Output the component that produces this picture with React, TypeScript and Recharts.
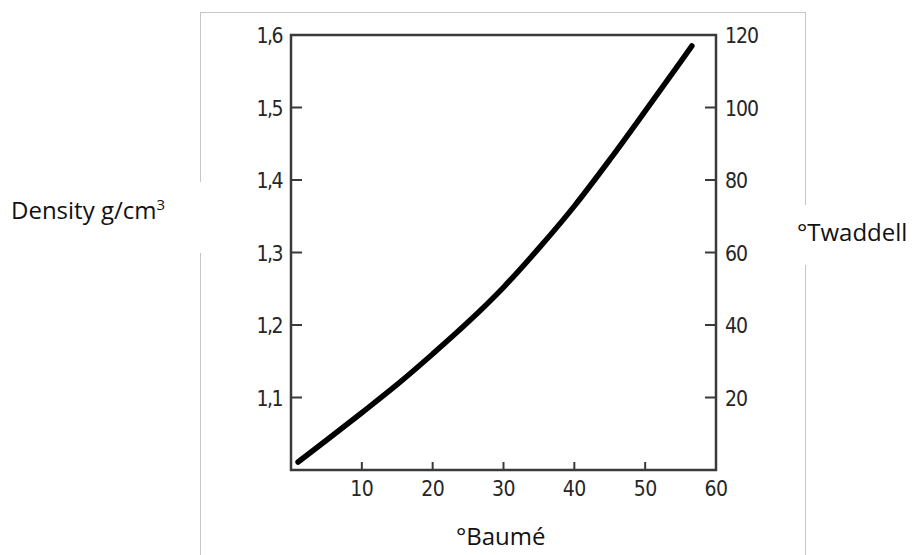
import { LineChart, Line, XAxis, YAxis, ReferenceArea } from 'recharts';

// readings (°Baumé -> density)
const baume = [1, 5, 10, 15, 20, 25, 30, 35, 40, 45, 50, 55, 56.6];
const density = [1.011, 1.041, 1.079, 1.118, 1.16, 1.204, 1.252, 1.306, 1.364, 1.428, 1.495, 1.563, 1.585];

const xTicks = [10, 20, 30, 40, 50, 60];
const densityTicks = [1.1, 1.2, 1.3, 1.4, 1.5, 1.6];
const twaddellTicks = [20, 40, 60, 80, 100, 120];

const data = baume.map((b, i) => ({ baume: b, density: density[i] }));

const tickFont = { fontFamily: '"DejaVu Sans Condensed", "DejaVu Sans", sans-serif', fontSize: 21, fill: '#262626' };
const axisColor = '#3a3a3a';
const labelFont = '"Open Sans", sans-serif';

const BottomTick = (props: any) => {
  const { x, y, payload } = props;
  return (
    <g>
      <line x1={x} y1={y} x2={x} y2={y - 8} stroke={axisColor} strokeWidth={2} />
      <text x={x} y={y + 19} textAnchor="middle" dominantBaseline="central" letterSpacing={-0.5} {...tickFont}>
        {payload.value}
      </text>
    </g>
  );
};

const LeftTick = (props: any) => {
  const { x, y, payload } = props;
  return (
    <g>
      <line x1={x} y1={y} x2={x + 11} y2={y} stroke={axisColor} strokeWidth={2} />
      <text x={x - 9} y={y + 1} textAnchor="end" dominantBaseline="central" letterSpacing={-1.5} {...tickFont}>
        {Number(payload.value).toFixed(1).replace('.', ',')}
      </text>
    </g>
  );
};

const RightTick = (props: any) => {
  const { x, y, payload } = props;
  return (
    <g>
      <line x1={x} y1={y} x2={x - 11} y2={y} stroke={axisColor} strokeWidth={2} />
      <text x={x + 9} y={y + 1} textAnchor="start" dominantBaseline="central" letterSpacing={-1} {...tickFont}>
        {payload.value}
      </text>
    </g>
  );
};

const App = () => {
  return (
    <div style={{ position: 'absolute', left: 0, top: 0, width: 917, height: 555, overflow: 'hidden', background: 'white' }}>
      <div
        style={{
          position: 'absolute',
          left: 200,
          top: 12,
          width: 604,
          height: 600,
          border: '1.5px solid #c6c6c6',
          borderBottom: 'none',
        }}
      />
      <div style={{ position: 'absolute', left: 0, top: 0 }}>
        <LineChart width={917} height={555} data={data} margin={{ top: 35, right: 151, bottom: 55, left: 251 }}>
          <XAxis
            dataKey="baume"
            type="number"
            domain={[0, 60]}
            allowDataOverflow
            ticks={xTicks}
            height={30}
            axisLine={false}
            tickLine={false}
            tickSize={0}
            tickMargin={0}
            tick={<BottomTick />}
          />
          <YAxis
            yAxisId="left"
            orientation="left"
            type="number"
            domain={[1, 1.6]}
            allowDataOverflow
            ticks={densityTicks}
            width={40}
            axisLine={false}
            tickLine={false}
            tickSize={0}
            tickMargin={0}
            tick={<LeftTick />}
          />
          <YAxis
            yAxisId="right"
            orientation="right"
            type="number"
            domain={[0, 120]}
            allowDataOverflow
            ticks={twaddellTicks}
            width={50}
            axisLine={false}
            tickLine={false}
            tickSize={0}
            tickMargin={0}
            tick={<RightTick />}
          />
          <ReferenceArea
            yAxisId="left"
            x1={0}
            x2={60}
            y1={1}
            y2={1.6}
            fill="none"
            fillOpacity={0}
            stroke={axisColor}
            strokeWidth={2.5}
          />
          <Line
            yAxisId="left"
            type="monotone"
            dataKey="density"
            stroke="#000"
            strokeWidth={5.5}
            strokeLinecap="round"
            dot={false}
            activeDot={false}
            isAnimationActive={false}
          />
        </LineChart>
      </div>
      <div
        style={{
          position: 'absolute',
          left: 8,
          top: 182,
          width: 200,
          height: 71,
          background: 'white',
          fontFamily: labelFont,
          fontSize: 24,
          color: '#111',
          lineHeight: '56px',
          paddingLeft: 3,
          boxSizing: 'border-box',
          whiteSpace: 'nowrap',
        }}
      >
        Density g/cm<sup style={{ fontSize: 15, verticalAlign: 'top', lineHeight: '44px' }}>3</sup>
      </div>
      <div
        style={{
          position: 'absolute',
          left: 797,
          top: 205,
          width: 120,
          height: 60,
          background: 'white',
          fontFamily: labelFont,
          fontSize: 24,
          color: '#111',
          lineHeight: '54px',
          whiteSpace: 'nowrap',
        }}
      >
        °Twaddell
      </div>
      <div
        style={{
          position: 'absolute',
          left: 456,
          top: 518,
          fontFamily: labelFont,
          fontSize: 24,
          color: '#111',
          lineHeight: '36px',
          whiteSpace: 'nowrap',
        }}
      >
        °Baumé
      </div>
    </div>
  );
};

export default App;
